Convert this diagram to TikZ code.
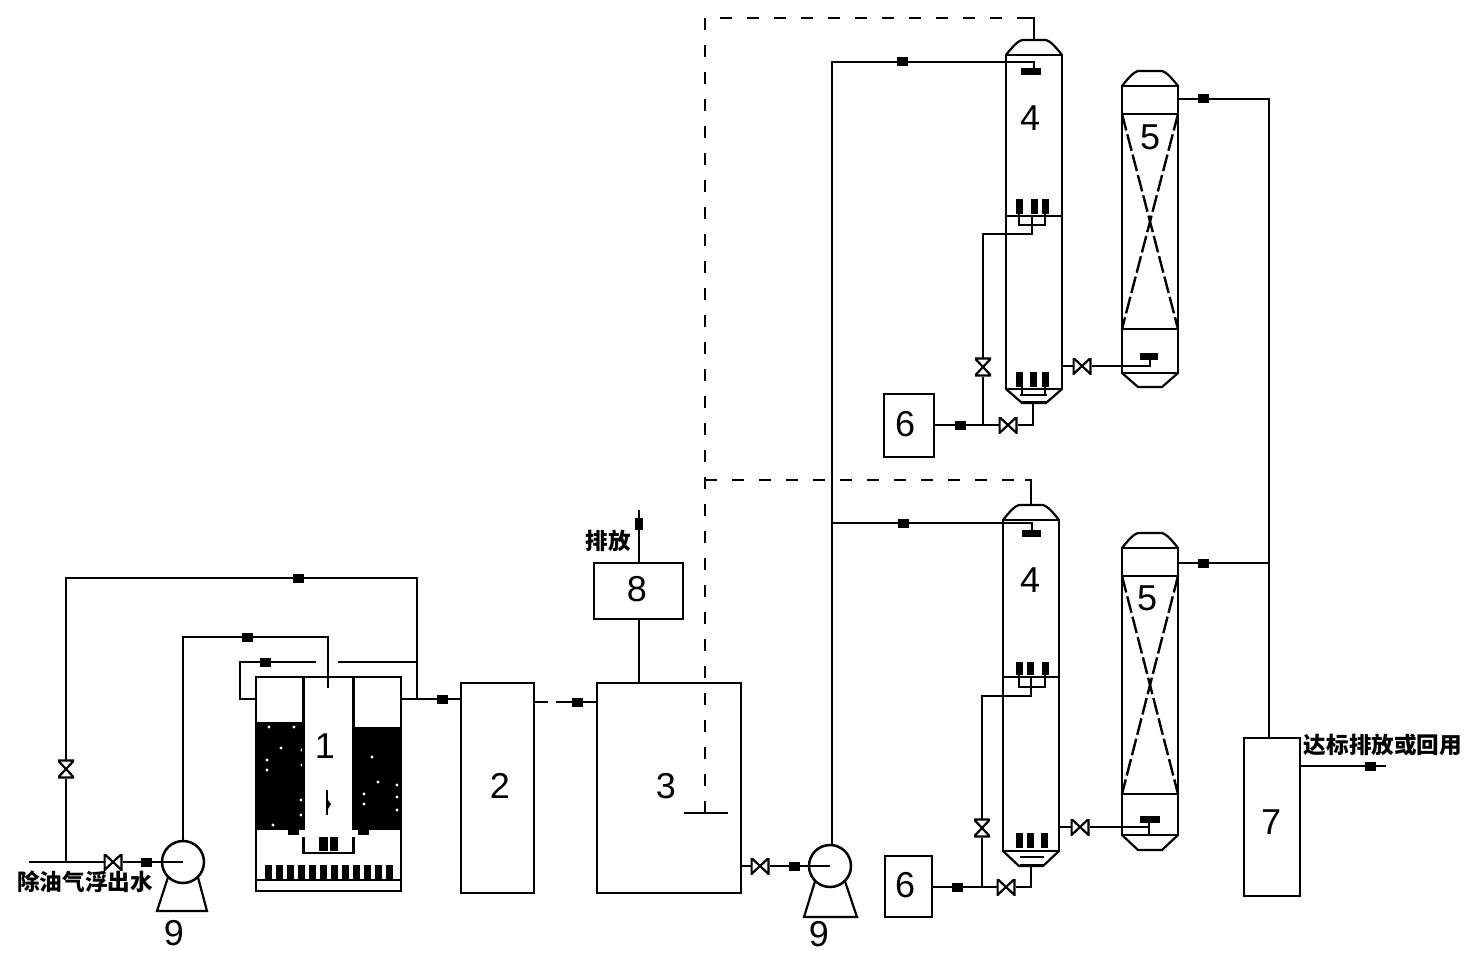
\documentclass[tikz,border=0pt]{standalone}
\usepackage{fontspec}
\setmainfont{Liberation Sans}
\newfontfamily\cjk{Noto Sans CJK SC}
\usepackage{pgf,tikz}
\usetikzlibrary{positioning,calc}
\tikzset{
  pipe/.style={line width=2.5pt},
  thinwall/.style={line width=2.2pt},
  dashline/.style={line width=2.5pt,dash pattern=on 12pt off 15pt},
  crossline/.style={line width=2.4pt,dash pattern=on 17pt off 4pt},
  vessel/.style={draw,line width=2.9pt,inner sep=0pt,outer sep=0pt,fill=none},
  tag/.style={fill=black,inner sep=0pt,outer sep=0pt,minimum width=11pt,minimum height=9pt},
  num/.style={font=\fontsize{36}{40}\selectfont,inner sep=0pt},
  cnlabel/.style={font=\cjk\bfseries\fontsize{22.6}{24}\selectfont,inner sep=0pt},
  pump/.style={circle,draw,line width=2.5pt,minimum size=42pt,inner sep=0pt,outer sep=0pt},
  valveh/.style={minimum width=19pt,minimum height=16pt,inner sep=0pt,outer sep=0pt,
    path picture={\draw[line width=2.2pt]
      ([xshift=1pt]path picture bounding box.north west) -- ([xshift=-1pt]path picture bounding box.south east) --
      ([xshift=-1pt]path picture bounding box.north east) -- ([xshift=1pt]path picture bounding box.south west) -- cycle;}},
  valvev/.style={minimum width=16pt,minimum height=19pt,inner sep=0pt,outer sep=0pt,
    path picture={\draw[line width=2.2pt]
      ([yshift=-1pt]path picture bounding box.north west) -- ([yshift=1pt]path picture bounding box.south east) --
      ([yshift=1pt]path picture bounding box.south west) -- ([yshift=-1pt]path picture bounding box.north east) -- cycle;}}
}
\begin{document}
\begin{tikzpicture}[x=1pt,y=-1pt]
\useasboundingbox (0,0) rectangle (1472,960);
%Packing of unit 1
    \fill (256,722) rectangle (304,830);
    \fill (354,727) rectangle (401,830);
    \foreach \x/\y in {269/727,294/727,281/748,267/760,267/770,273/825,302/750,302/765,372/757,378/782,364/794,364/804,397/785,397/797,397/810,301/800,301/815}
        \fill[white] (\x,\y) circle (1.6pt);
    \fill (288,830) rectangle (299,835);
    \fill (358,830) rectangle (369,835);
%Nodes
    \node[vessel,minimum width=145pt,minimum height=214pt] (R1) at (328.5,784) {};
    \node[vessel,minimum width=73pt,minimum height=210pt] (P2) at (497.5,788) {};
    \node[vessel,minimum width=144pt,minimum height=210pt] (P3) at (669,788) {};
    \node[vessel,minimum width=89pt,minimum height=56pt] (P8) at (638.5,591) {};
    \node[vessel,minimum width=56pt,minimum height=158pt] (P7) at (1272,817) {};
    \node[vessel,minimum width=50pt,minimum height=63pt] (P6a) at (909,425.5) {};
    \node[vessel,minimum width=47pt,minimum height=61pt] (P6b) at (908.5,886.5) {};
    \node[vessel,minimum width=56pt,minimum height=334pt] (C4a) at (1034,222) {};
    \node[vessel,minimum width=56pt,minimum height=331pt] (C4b) at (1031,685.5) {};
    \node[vessel,minimum width=56pt,minimum height=287pt] (C5a) at (1150,229.5) {};
    \node[vessel,minimum width=56pt,minimum height=287pt] (C5b) at (1150,691.5) {};
    \node[pump] (P9a) at (183,862) {};
    \node[pump] (P9b) at (830,866) {};
%Numbers
    \node[num] (n1) at (325,746) {1};
    \node[num] (n2) at (500,786) {2};
    \node[num] (n3) at (666,786) {3};
    \node[num] (n4a) at (1030,118) {4};
    \node[num] (n4b) at (1030,580) {4};
    \node[num] (n5a) at (1150,137) {5};
    \node[num] (n5b) at (1147,598) {5};
    \node[num] (n6a) at (905,424) {6};
    \node[num] (n6b) at (905,885) {6};
    \node[num] (n7) at (1271,822) {7};
    \node[num] (n8) at (637,589) {8};
    \node[num] (n9a) at (174,933) {9};
    \node[num] (n9b) at (819,934) {9};
%Texts
    \node[cnlabel] (tin) at (85,882) {除油气浮出水};
    \node[cnlabel] (tout) at (608,541) {排放};
    \node[cnlabel] (treuse) at (1383,745) {达标排放或回用};
%Tags
    \node[tag] (tg1) at (298,578) {};
    \node[tag] (tg2) at (247,637) {};
    \node[tag] (tg3) at (265,662) {};
    \node[tag] (tg4) at (146,862) {};
    \node[tag] (tg5) at (442,699) {};
    \node[tag] (tg6) at (577,702) {};
    \node[tag] (tg7) at (794,866) {};
    \node[tag,minimum width=8pt,minimum height=12pt] (tg8) at (639,524) {};
    \node[tag] (tg9) at (902,62) {};
    \node[tag] (tg10) at (903,523) {};
    \node[tag] (tg11) at (1203,99) {};
    \node[tag] (tg12) at (1203,563) {};
    \node[tag] (tg13) at (960,425) {};
    \node[tag] (tg14) at (957,887) {};
    \node[tag] (tg15) at (1370,766) {};
%Valves
    \node[valvev] (v1) at (66,769) {};
    \node[valveh] (v2) at (113,862) {};
    \node[valveh] (v3) at (760,866) {};
    \node[valvev] (v4) at (983,367) {};
    \node[valveh] (v5) at (1008,425) {};
    \node[valveh] (v6) at (1082,366) {};
    \node[valvev] (v7) at (982,828) {};
    \node[valveh] (v8) at (1006,887) {};
    \node[valveh] (v9) at (1080,827) {};
%Junctions
    \coordinate (inlet) at (29,862);
    \coordinate (jin) at (66,862);
    \coordinate (feed) at (328,637);
    \coordinate (feedend) at (328,688);
    \coordinate (jout) at (417,699);
    \coordinate (jrec) at (417,662);
    \coordinate (gapa) at (316,662);
    \coordinate (gapb) at (338,662);
    \coordinate (corner) at (240,699);
    \coordinate (lat23a) at (548,702);
    \coordinate (lat23b) at (556,702);
    \coordinate (vent) at (639,510);
    \coordinate (j832) at (832,523);
    \coordinate (spray) at (705,813);
    \coordinate (dtop) at (705,18);
    \coordinate (dmid) at (705,480);
    \coordinate (dend) at (1025,18);
    \coordinate (dendb) at (1025,480);
    \coordinate (domeA) at (1034,40);
    \coordinate (domeB) at (1031,505);
    \coordinate (airA) at (1032,225);
    \coordinate (airB) at (1031,687);
    \coordinate (feedA) at (1034,62);
    \coordinate (feedB) at (1032,523);
    \coordinate (botA) at (1033,402);
    \coordinate (botB) at (1031,865);
    \coordinate (cornerA) at (1033,425);
    \coordinate (cornerB) at (1031,887);
    \coordinate (jA) at (983,425);
    \coordinate (jB) at (982,887);
    \coordinate (feed5a) at (1150,366);
    \coordinate (feed5b) at (1149,827);
    \coordinate (j1269) at (1269,563);
    \coordinate (end7) at (1386,766);

%Influent and unit 1
    \draw[pipe] (inlet) -- (v2) -- (tg4) -- (P9a.center);
    \draw[pipe] (jin) -- (v1) -- (v1 |- tg1) -- (tg1) -| (jout);
    \draw[pipe] (P9a.north) |- (tg2) -- (feed) -- (feedend);
    \draw[pipe] (R1.west |- corner) -- (corner) |- (tg3) -- (gapa);
    \draw[pipe] (gapb) -- (jrec);
    \draw[pipe] (R1.east |- jout) -- (tg5) -- (P2.west |- tg5);
    \draw[pipe] (303.5,677) -- (303.5,830);
    \draw[pipe] (353.5,677) -- (353.5,830);
    \draw[pipe] (R1.west |- 0,880) -- (R1.east |- 0,880);
    \foreach \x in {265,276,287,298,309,320,331,342,353,364,375,386}
        \fill (\x,865) rectangle +(7,15);
    \draw[pipe] (303.5,837) -- (303.5,853) -- (353.5,853) -- (353.5,837);
    \fill (319,837) rectangle (328,851);
    \fill (330,837) rectangle (338,851);
    \draw[pipe] (327,790) -- (327,815);
    \fill (328,800) -- (331,804) -- (328,809) -- cycle;
    \draw[thinwall] (P9a.south west) -- (157,911) -- (207,911) -- (P9a.south east);
    \draw[thinwall] (P9b.south west) -- (804,917) -- (857,917) -- (P9b.south east);

%Units 2, 3, 8
    \draw[pipe] (P2.east |- tg6) -- (lat23a);
    \draw[pipe] (lat23b) -- (tg6) -- (P3.west |- tg6);
    \draw[pipe] (P8.south -| tg8) -- (P3.north -| tg8);
    \draw[pipe] (P8.north -| tg8) -- (tg8) -- (vent);
    \draw[pipe] (P3.east |- tg7) -- (v3) -- (tg7) -- (P9b.center);
    \draw[pipe] (684,813) -- (728,813);
    \draw[dashline] (spray) -- (dmid) -- (dtop) -- (dend);
    \draw[dashline] (dmid) -- (dendb);
    \draw[pipe] (dend) -| (domeA);
    \draw[pipe] (dendb) -| (domeB);

%Feed to unit 4
    \draw[pipe] (P9b.north -| j832) |- (tg9) -- (C4a.west |- feedA) -- (feedA) -- (1034,69);
    \draw[pipe] (j832) -- (tg10) -- (feedB) -- (1032,530);
    \fill (1021,68) rectangle (1041,75);
    \fill (1022,530) rectangle (1041,537);

%Domes and cones
    \foreach \cx/\ty/\by in {1034/55/389,1150/86/373}
    {
        \draw[thinwall] (\cx-28,\ty) .. controls (\cx-21,\ty-9) and (\cx-16,\ty-14) .. (\cx-12,\ty-15) -- (\cx+12,\ty-15) .. controls (\cx+16,\ty-14) and (\cx+21,\ty-9) .. (\cx+28,\ty);
        \draw[thinwall] (\cx-28,\by) -- (\cx-12,\by+14) -- (\cx+12,\by+14) -- (\cx+28,\by);
    }
    \foreach \cx/\ty/\by in {1031/520/851,1150/548/835}
    {
        \draw[thinwall] (\cx-28,\ty) .. controls (\cx-21,\ty-9) and (\cx-16,\ty-14) .. (\cx-12,\ty-15) -- (\cx+12,\ty-15) .. controls (\cx+16,\ty-14) and (\cx+21,\ty-9) .. (\cx+28,\ty);
        \draw[thinwall] (\cx-28,\by) -- (\cx-12,\by+15) -- (\cx+12,\by+15) -- (\cx+28,\by);
    }

%Unit 4, upper
    \draw[pipe] (C4a.west |- 0,216) -- (C4a.east |- 0,216);
    \foreach \x in {1016,1031,1042}
        \fill (\x,199) rectangle +(7,15);
    \draw[pipe] (1019,214) -- (1019,225) -- (1045,225) -- (1045,214);
    \draw[pipe] (1032,216) -- (airA);
    \draw[pipe] (airA) -- (1032,234) -| (v4) -- (jA);
    \foreach \x in {1016,1030,1042}
        \fill (\x,372) rectangle +(7,15);
    \draw[pipe] (1020,395) -- (1047,395);
    \draw[pipe] (1020,402) -- (1047,402);
    \draw[pipe] (1022,387) -- (1022,395);
    \draw[pipe] (1045,387) -- (1045,395);
    \draw[pipe] (botA) -- (cornerA) -- (v5) -- (jA) -- (tg13) -- (P6a.east |- tg13);
    \draw[pipe] (C4a.east |- v6) -- (v6) -- (feed5a) -- (1150,358);
    \fill (1140,353) rectangle (1158,360);

%Unit 4, lower
    \draw[pipe] (C4b.west |- 0,677) -- (C4b.east |- 0,677);
    \foreach \x in {1016,1027,1042}
        \fill (\x,662) rectangle +(7,13);
    \draw[pipe] (1019,675) -- (1019,687) -- (1045,687) -- (1045,675);
    \draw[pipe] (1031,677) -- (airB);
    \draw[pipe] (airB) -- (1031,696) -| (v7) -- (jB);
    \foreach \x in {1016,1027,1041}
        \fill (\x,833) rectangle +(7,15);
    \draw[pipe] (1020,857) -- (1044,857);
    \draw[pipe] (1020,865) -- (1044,865);
    \draw[pipe] (botB) -- (cornerB) -- (v8) -- (jB) -- (tg14) -- (P6b.east |- tg14);
    \draw[pipe] (C4b.east |- v9) -- (v9) -- (feed5b);
    \draw[pipe] (1149,820) -- (1149,835);
    \fill (1140,816) rectangle (1160,823);

%Unit 5
    \draw[pipe] (C5a.west |- 0,114) -- (C5a.east |- 0,114);
    \draw[pipe] (C5a.west |- 0,329) -- (C5a.east |- 0,329);
    \draw[crossline] (C5a.west |- 0,114) -- (C5a.east |- 0,329);
    \draw[crossline] (C5a.east |- 0,114) -- (C5a.west |- 0,329);
    \draw[pipe] (C5b.west |- 0,576) -- (C5b.east |- 0,576);
    \draw[pipe] (C5b.west |- 0,794) -- (C5b.east |- 0,794);
    \draw[crossline] (C5b.west |- 0,576) -- (C5b.east |- 0,794);
    \draw[crossline] (C5b.east |- 0,576) -- (C5b.west |- 0,794);
    \draw[pipe] (C5a.east |- tg11) -- (tg11) -| (j1269);
    \draw[pipe] (C5b.east |- tg12) -- (tg12) -- (j1269) -- (P7.north -| j1269);
    \draw[pipe] (P7.east |- tg15) -- (tg15) -- (end7);
\end{tikzpicture}
\end{document}
